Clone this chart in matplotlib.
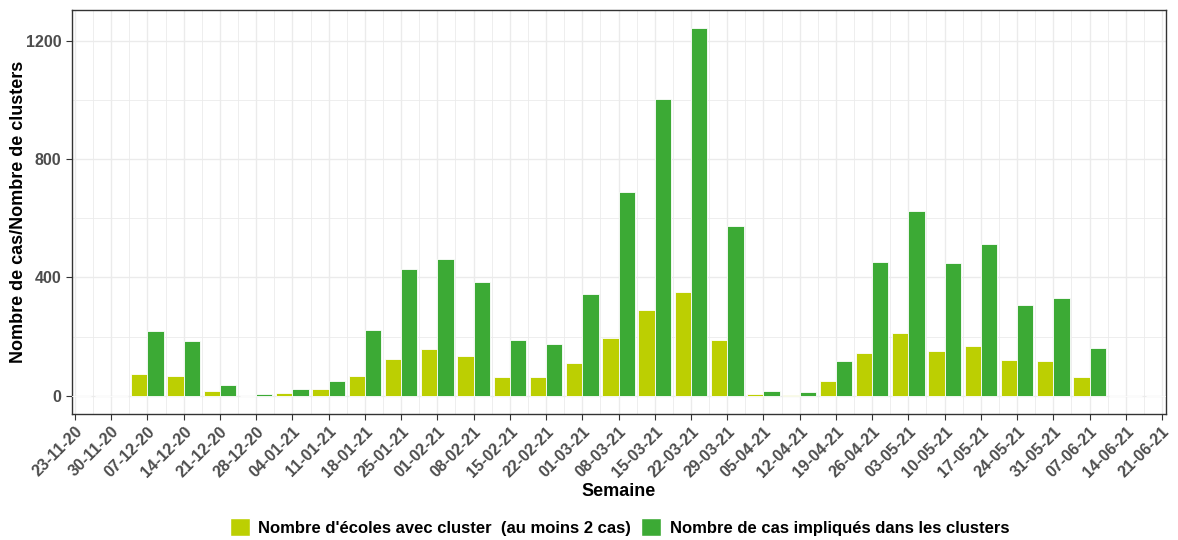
import matplotlib
matplotlib.use("Agg")
import matplotlib.pyplot as plt
import numpy as np
from matplotlib.patches import Patch

weeks = ["23-11-20", "30-11-20", "07-12-20", "14-12-20", "21-12-20", "28-12-20",
         "04-01-21", "11-01-21", "18-01-21", "25-01-21", "01-02-21", "08-02-21",
         "15-02-21", "22-02-21", "01-03-21", "08-03-21", "15-03-21", "22-03-21",
         "29-03-21", "05-04-21", "12-04-21", "19-04-21", "26-04-21", "03-05-21",
         "10-05-21", "17-05-21", "24-05-21", "31-05-21", "07-06-21", "14-06-21",
         "21-06-21"]
ecoles = [0, 0, 73, 65, 16, 0, 8, 24, 65, 123, 158, 135, 62, 62, 112, 196, 289,
          351, 188, 7, 3, 51, 143, 212, 150, 169, 119, 116, 62, 0, 0]
cas = [0, 0, 220, 186, 35, 4, 24, 51, 223, 427, 462, 385, 188, 174, 343, 689,
       1002, 1243, 574, 16, 11, 116, 453, 624, 447, 512, 308, 331, 162, 0, 0]
lab_ecoles = "Nombre d'écoles avec cluster  (au moins 2 cas)"
lab_cas = "Nombre de cas impliqués dans les clusters"
c_ecoles = "#bccf02"
c_cas = "#3caa35"

plt.rcParams['font.family'] = ['Liberation Sans', 'DejaVu Sans']

fig = plt.figure(figsize=(11.78, 5.4), dpi=100)
ax = fig.add_axes([72/1178, 126/540, (1166-72)/1178, (414-10)/540])

x = np.arange(len(weeks))
w = 0.45
ax.bar(x - w/2, ecoles, width=w, color=c_ecoles, edgecolor="white", linewidth=0.6, zorder=3)
ax.bar(x + w/2, cas, width=w, color=c_cas, edgecolor="white", linewidth=0.6, zorder=3)

ax.set_xlim(-0.083, len(weeks) - 1 + 0.11)
ax.set_ylim(-62, 1304)
ax.set_xticks(x)
ax.set_xticks(x[:-1] + 0.5, minor=True)
ax.set_xticklabels(weeks, rotation=45, ha="right", rotation_mode="anchor",
                   fontsize=11.5, fontweight="bold", color="#4d4d4d")
ax.set_yticks([0, 400, 800, 1200])
ax.set_yticks([200, 600, 1000], minor=True)
ax.tick_params(axis="y", labelsize=11.5, labelcolor="#4d4d4d", length=4, color="#333333")
for t in ax.get_yticklabels():
    t.set_fontweight("bold")
ax.tick_params(axis="x", length=4, color="#333333", pad=3)
ax.tick_params(which="minor", length=0)
ax.grid(True, which="major", color="#ebebeb", linewidth=1.0, zorder=0)
ax.grid(True, which="minor", color="#ebebeb", linewidth=0.6, zorder=0)
for s in ax.spines.values():
    s.set_color("#333333")
    s.set_linewidth(1.0)

ax.set_xlabel("Semaine", fontsize=13, fontweight="bold", labelpad=2)
ax.set_ylabel("Nombre de cas/Nombre de clusters", fontsize=13, fontweight="bold", labelpad=-1)

handles = [Patch(facecolor=c_ecoles, edgecolor="white", label=lab_ecoles),
           Patch(facecolor=c_cas, edgecolor="white", label=lab_cas)]
leg = fig.legend(handles=handles, loc="center", bbox_to_anchor=(0.526, 13/540), ncol=2,
                 frameon=False, prop={"weight": "bold", "size": 12},
                 handlelength=1.2, handleheight=1.2, handletextpad=0.5, columnspacing=0.6)

fig.savefig("out.png", dpi=100)
